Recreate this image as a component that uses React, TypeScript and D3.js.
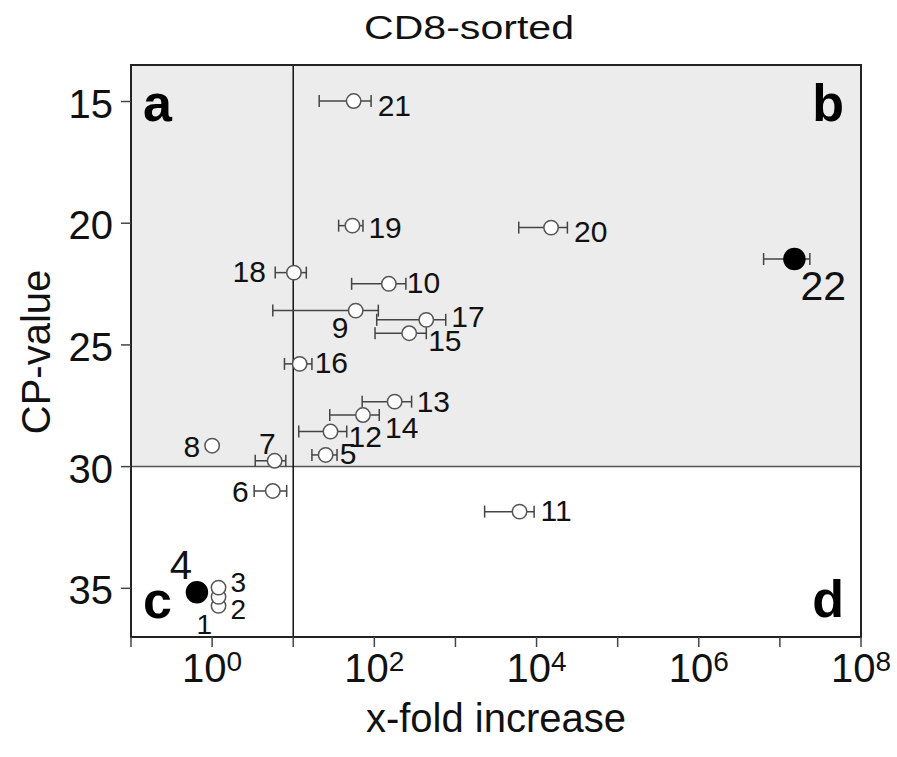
import React from "react";
import * as d3 from "d3";

// ---- data ----
const ids = ["1", "2", "3", "4", "5", "6", "7", "8", "9", "10", "11", "12", "13", "14", "15", "16", "17", "18", "19", "20", "21", "22"];
const foldIncrease = [1.2, 1.2, 1.2, 0.65, 25.1, 5.6, 5.9, 1.0, 58.9, 151, 6170, 28.8, 178, 72.4, 269, 12.0, 437, 10.2, 53.7, 15100, 55.6, 1.51e7];
const foldLow = [null, null, null, null, 17.0, 3.3, 3.4, null, 5.6, 52.5, 2290, 11.7, 70.8, 28.2, 102, 7.8, 107, 6.0, 36.3, 6030, 20.9, 6.3e6];
const foldHigh = [null, null, null, null, 34.7, 8.3, 8.1, null, 112, 245, 9330, 45.7, 288, 115, 437, 17.0, 759, 14.5, 72.4, 24000, 91.2, 2.34e7];
const cpValue = [35.72, 35.35, 34.97, 35.16, 29.52, 31.0, 29.76, 29.14, 23.59, 22.49, 31.85, 28.56, 27.33, 27.88, 24.52, 25.78, 23.97, 22.03, 20.1, 20.18, 14.98, 21.47];
const highlighted = ["4", "22"];
const yTicks = [15, 20, 25, 30, 35];
const xTickExponents = [-1, 0, 1, 2, 3, 4, 5, 6, 7, 8];
const xLabelExponents = [0, 2, 4, 6, 8];
const cpThreshold = 30;
const foldThreshold = 10;
const quadrantLetters = ["a", "b", "c", "d"];

// ---- layout for point labels (anchor, dx, dy, font size) ----
const labelLayout: Record<string, [string, number, number, number]> = {
  "1": ["start", -22, 28, 28],
  "2": ["start", 12, 22, 28],
  "3": ["start", 12, 4, 28],
  "4": ["end", -5, -13, 40],
  "5": ["start", 14, 9, 30],
  "6": ["end", -24, 11, 30],
  "7": ["end", 1, -7, 30],
  "8": ["end", -12, 11, 30],
  "9": ["start", -24, 27, 30],
  "10": ["start", 18, 9, 30],
  "11": ["start", 21, 9, 30],
  "12": ["start", 18, 15, 30],
  "13": ["start", 22, 10, 30],
  "14": ["start", 22, 23, 30],
  "15": ["start", 19, 18, 30],
  "16": ["start", 15, 9, 30],
  "17": ["start", 25, 7, 30],
  "18": ["end", -28, 9, 30],
  "19": ["start", 16, 12, 30],
  "20": ["start", 23, 14, 30],
  "21": ["start", 24, 15, 30],
  "22": ["start", 6, 41, 41],
};

const W = 897;
const H = 757;
const L = 131, R = 861, T = 65, B = 637;
const FONT = "'Liberation Sans', Arial, Helvetica, sans-serif";

export default function App() {
  const x = d3.scaleLog().domain([0.1, 1e8]).range([L, R]);
  const y = d3.scaleLinear().domain([13.5, 37]).range([T, B]);

  const points = ids.map((id, i) => ({
    id,
    v: foldIncrease[i],
    lo: foldLow[i],
    hi: foldHigh[i],
    cp: cpValue[i],
    filled: highlighted.includes(id),
  }));

  const yThr = y(cpThreshold);
  const xThr = x(foldThreshold);

  return (
    <svg width={W} height={H} style={{ position: "absolute", left: 0, top: 0 }} fontFamily={FONT}>
      <rect x={0} y={0} width={W} height={H} fill="#ffffff" />
      {/* shaded region above threshold */}
      <rect x={L} y={T} width={R - L} height={yThr - T} fill="#ececec" />
      {/* threshold lines */}
      <line x1={L} x2={R} y1={yThr} y2={yThr} stroke="#555" strokeWidth={1.5} />
      <line x1={xThr} x2={xThr} y1={T} y2={B} stroke="#111" strokeWidth={1.5} />

      {/* frame */}
      <rect x={L} y={T} width={R - L} height={B - T} fill="none" stroke="#222" strokeWidth={2} />

      {/* y axis ticks */}
      {yTicks.map((t) => (
        <g key={"y" + t}>
          <line x1={L - 10} x2={L} y1={y(t)} y2={y(t)} stroke="#444" strokeWidth={1.5} />
          <text x={113} y={y(t) + 16} textAnchor="end" fontSize={40} fill="#111">
            {t}
          </text>
        </g>
      ))}

      {/* x axis ticks */}
      {xTickExponents.map((e) => (
        <line key={"x" + e} x1={x(Math.pow(10, e))} x2={x(Math.pow(10, e))} y1={B} y2={B + 10} stroke="#444" strokeWidth={1.5} />
      ))}
      {xLabelExponents.map((e) => (
        <text key={"xl" + e} x={x(Math.pow(10, e))} y={682} textAnchor="middle" fontSize={40} fill="#111">
          <tspan>10</tspan>
          <tspan fontSize={28} dy={-11}>{e}</tspan>
        </text>
      ))}

      {/* axis titles */}
      <text x={469} y={39} textAnchor="middle" fontSize={34} textLength={210} lengthAdjust="spacingAndGlyphs" fill="#111">
        CD8-sorted
      </text>
      <text x={496} y={732} textAnchor="middle" fontSize={40} fill="#111">
        x-fold increase
      </text>
      <text transform={`translate(50,${352}) rotate(-90)`} textAnchor="middle" fontSize={40} fill="#111">
        CP-value
      </text>

      {/* quadrant letters */}
      <text x={143} y={121} fontSize={52} fontWeight="bold" fill="#000">{quadrantLetters[0]}</text>
      <text x={844} y={121} textAnchor="end" fontSize={52} fontWeight="bold" fill="#000">{quadrantLetters[1]}</text>
      <text x={143} y={618} fontSize={52} fontWeight="bold" fill="#000">{quadrantLetters[2]}</text>
      <text x={844} y={617} textAnchor="end" fontSize={52} fontWeight="bold" fill="#000">{quadrantLetters[3]}</text>

      {/* error bars */}
      {points.filter((p) => p.lo != null && p.hi != null).map((p) => {
        const cy = y(p.cp);
        const x1 = x(p.lo as number);
        const x2 = x(p.hi as number);
        return (
          <g key={"e" + p.id} stroke="#444" strokeWidth={1.5}>
            <line x1={x1} x2={x2} y1={cy} y2={cy} />
            <line x1={x1} x2={x1} y1={cy - 6} y2={cy + 6} />
            <line x1={x2} x2={x2} y1={cy - 6} y2={cy + 6} />
          </g>
        );
      })}

      {/* points */}
      {points.map((p) => (
        <circle
          key={"c" + p.id}
          cx={x(p.v)}
          cy={y(p.cp)}
          r={p.filled ? 10.5 : 7.2}
          fill={p.filled ? "#000" : "#fff"}
          stroke={p.filled ? "#000" : "#555"}
          strokeWidth={1.5}
        />
      ))}

      {/* point labels */}
      {points.map((p) => {
        const [anchor, dx, dy, fs] = labelLayout[p.id];
        return (
          <text key={"t" + p.id} x={x(p.v) + dx} y={y(p.cp) + dy} textAnchor={anchor} fontSize={fs} fill="#111">
            {p.id}
          </text>
        );
      })}
    </svg>
  );
}
